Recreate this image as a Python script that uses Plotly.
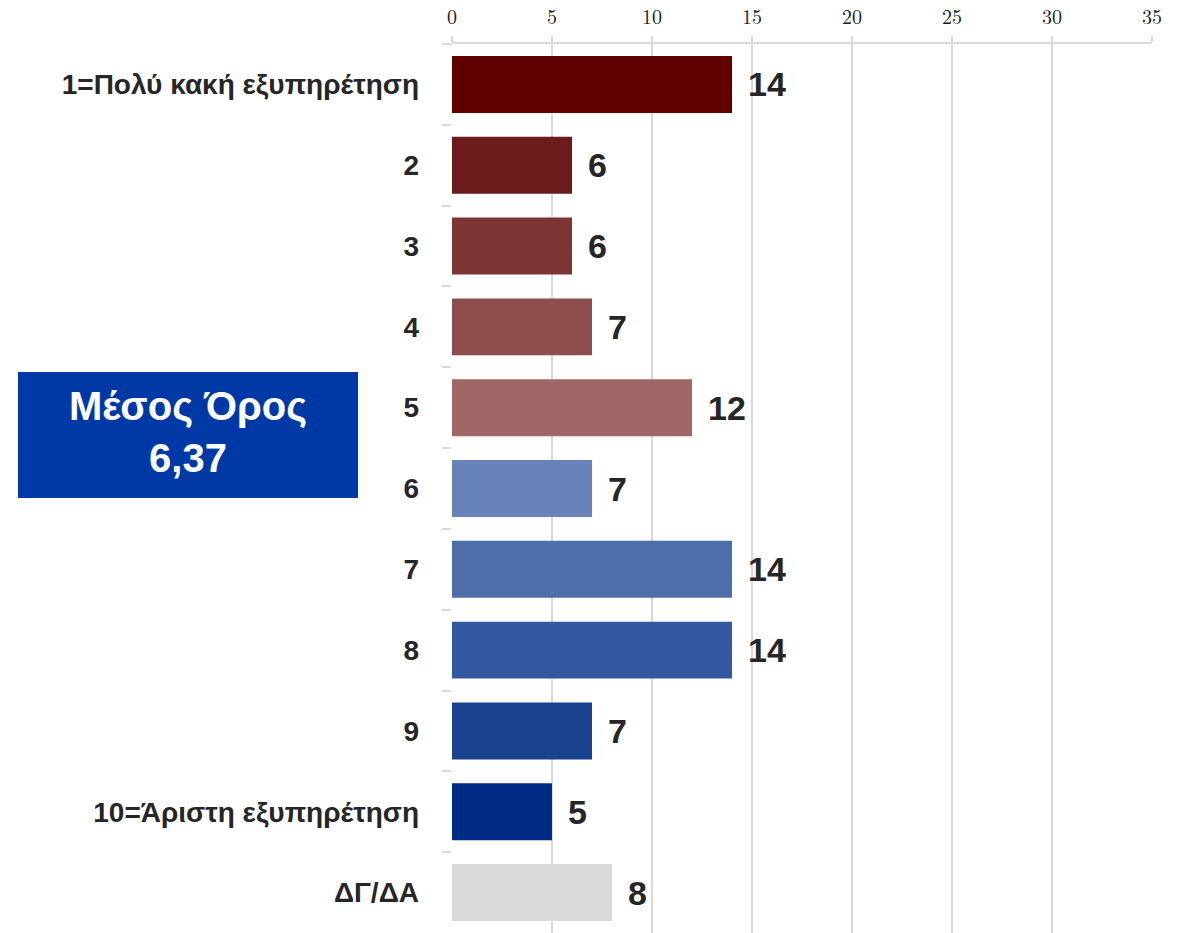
import plotly.graph_objects as go

# --- data ---
categories = ['1=Πολύ κακή εξυπηρέτηση', '2', '3', '4', '5', '6', '7', '8', '9',
              '10=Άριστη εξυπηρέτηση', 'ΔΓ/ΔΑ']
values = [14, 6, 6, 7, 12, 7, 14, 14, 7, 5, 8]
bar_colors = ['#600000', '#6d1a1a', '#7d3434', '#8e4d4d', '#a06767',
              '#6883b9', '#4e6eaa', '#34589f', '#1b4290', '#002b84', '#d9d9d9']
x_ticks = [0, 5, 10, 15, 20, 25, 30, 35]
mean_label = 'Μέσος Όρος'
mean_value = '6,37'

label_font = 'Liberation Sans Narrow, Arial Narrow, Liberation Sans, Arial, sans-serif'
text_color = '#262626'

fig = go.Figure()

fig.add_trace(go.Bar(
    x=values,
    y=categories,
    orientation='h',
    marker=dict(color=bar_colors, line=dict(width=0)),
    hoverinfo='x+y',
))

# value labels to the right of each bar (y given as category index,
# since labels like '2' would otherwise be read as positions)
for i, v in enumerate(values):
    fig.add_annotation(
        x=v, y=i, xref='x', yref='y',
        text=str(v), showarrow=False,
        xanchor='left', xshift=14,
        font=dict(family=label_font, size=34, color=text_color, weight='bold'),
    )

# blue box with the average score
fig.add_shape(
    type='rect', xref='paper', yref='paper',
    x0=-0.62, x1=-0.1343, y0=0.4893, y1=0.631,
    fillcolor='#0039a6', line=dict(width=0), layer='above',
)
fig.add_annotation(
    xref='paper', yref='paper', x=-0.377, y=0.563,
    text=f'{mean_label}<br>{mean_value}', showarrow=False,
    xanchor='center', yanchor='middle', align='center',
    font=dict(family='Liberation Sans, Arial, sans-serif', size=40,
              color='white', weight='bold'),
)

fig.update_layout(
    width=1188, height=933,
    margin=dict(l=452, r=36, t=44, b=0),
    plot_bgcolor='white', paper_bgcolor='white',
    bargap=0.295,
    showlegend=False,
    xaxis=dict(
        side='top', range=[0, 35],
        tickvals=x_ticks, ticktext=[str(t) for t in x_ticks],
        showgrid=True, gridcolor='#d9d9d9', gridwidth=1.5,
        zeroline=False,
        showline=True, linecolor='#d9d9d9', linewidth=2,
        ticks='outside', ticklen=6, tickcolor='#d9d9d9', tickwidth=2,
        ticklabelstandoff=4,
        tickfont=dict(family='Latin Modern Roman, Liberation Serif, serif',
                      size=20, color='#1a1a1a'),
        automargin=False,
        fixedrange=True,
    ),
    yaxis=dict(
        categoryorder='array', categoryarray=categories,
        autorange='reversed',
        showgrid=False, zeroline=False, showline=False,
        ticks='outside', tickson='boundaries', ticklen=9,
        tickcolor='#d9d9d9', tickwidth=2,
        ticklabelstandoff=32,
        tickfont=dict(family=label_font, size=28, color=text_color, weight='bold'),
        automargin=False,
        fixedrange=True,
    ),
)

# drop the browser's default 8px body margin so the figure fills the window
fig.write_html('out.html', config={'displayModeBar': False},
               post_script="document.body.style.margin = '0';")
